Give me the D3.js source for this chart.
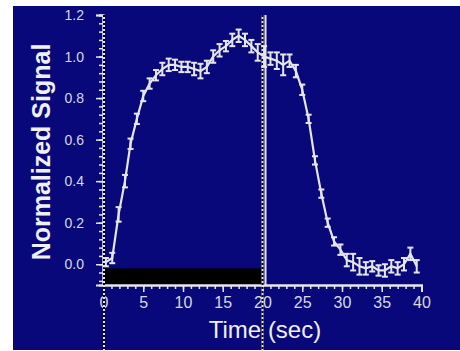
<!DOCTYPE html>
<html><head><meta charset="utf-8">
<script src="https://cdn.jsdelivr.net/npm/d3@7"></script>
<style>body{margin:0;background:#fff}svg{display:block}</style>
</head><body>
<svg id="c" width="460" height="351"></svg>
<script>
// Data
const times = [0.3,1.1,1.9,2.7,3.4,4.2,5.0,5.8,6.6,7.4,8.2,9.0,9.8,10.6,11.4,12.2,13.0,13.8,14.6,15.4,16.2,17.0,17.8,18.6,19.4,20.2,21.0,21.8,22.6,23.4,24.2,25.0,25.8,26.6,27.4,28.2,29.0,29.8,30.6,31.4,32.2,33.0,33.8,34.6,35.4,36.2,37.0,37.8,38.6,39.4];
const signal = [0.01,0.03,0.24,0.40,0.58,0.70,0.81,0.87,0.91,0.94,0.96,0.96,0.95,0.95,0.94,0.93,0.95,1.00,1.03,1.05,1.08,1.10,1.08,1.05,1.02,1.00,0.99,0.98,0.96,0.98,0.93,0.84,0.70,0.50,0.34,0.20,0.11,0.07,0.02,0.01,-0.01,-0.02,-0.01,-0.03,-0.03,-0.01,-0.02,0.00,0.05,-0.01];
const errors = [0.02,0.025,0.035,0.03,0.025,0.025,0.025,0.025,0.025,0.03,0.03,0.025,0.025,0.025,0.03,0.035,0.03,0.03,0.03,0.025,0.03,0.03,0.03,0.03,0.04,0.05,0.03,0.04,0.05,0.03,0.03,0.025,0.02,0.02,0.02,0.02,0.02,0.025,0.03,0.04,0.04,0.03,0.025,0.025,0.03,0.03,0.03,0.03,0.03,0.03];
const xTicks = [0,5,10,15,20,25,30,35,40];
const yTicks = [0.0,0.2,0.4,0.6,0.8,1.0,1.2];
const stimulus = [0,20];

const svg = d3.select("#c");
const W = "#e6e6ea";
svg.append("rect").attr("x",13).attr("y",6).attr("width",447).attr("height",344).attr("fill","#08087a");

const x = d3.scaleLinear().domain([0,40]).range([103.5,421.5]);
const y = d3.scaleLinear().domain([-0.1,1.2]).range([285,15]);

// stimulus bar
svg.append("rect").attr("x",x(stimulus[0])).attr("y",y(-0.02))
  .attr("width",x(stimulus[1])-x(stimulus[0])).attr("height",y(-0.1)-y(-0.02)).attr("fill","#000");

// minor ticks
const xMinor = d3.range(0,41,1);
const yMinor = d3.range(-0.08,1.2001,0.04);
function styleAxis(g){
  g.selectAll("path").attr("stroke",W).attr("stroke-width",2);
  g.selectAll("line").attr("stroke",W).attr("stroke-width",1.5);
  g.selectAll("text").attr("fill","#d8d8e0").style("font-family","Liberation Sans, Arial, sans-serif");
}
svg.append("g").attr("transform","translate(0,285)")
  .call(d3.axisBottom(x).tickValues(xMinor).tickSize(4).tickFormat("")).call(styleAxis);
svg.append("g").attr("transform","translate(0,285)")
  .call(d3.axisBottom(x).tickValues(xTicks).tickSize(7).tickPadding(5).tickFormat(d3.format("d")))
  .call(styleAxis).call(g=>g.selectAll("text").style("font-size","16px"));
svg.append("g").attr("transform","translate(103,0)")
  .call(d3.axisLeft(y).tickValues(yMinor).tickSize(4).tickFormat("")).call(styleAxis);
svg.append("g").attr("transform","translate(103,0)")
  .call(d3.axisLeft(y).tickValues(yTicks).tickSize(7).tickPadding(12).tickFormat(d3.format(".1f")))
  .call(styleAxis).call(g=>g.selectAll("text").style("font-size","14px"));

// vertical markers
svg.append("line").attr("x1",104).attr("x2",104).attr("y1",15).attr("y2",351).attr("stroke",W).attr("stroke-width",2);
svg.append("line").attr("x1",104).attr("x2",104).attr("y1",15).attr("y2",351).attr("stroke","#000").attr("stroke-width",2).attr("stroke-dasharray","2,2");
svg.append("line").attr("x1",x(stimulus[1])+3).attr("x2",x(stimulus[1])+3).attr("y1",15).attr("y2",285).attr("stroke",W).attr("stroke-width",2);
svg.append("line").attr("x1",x(stimulus[1])).attr("x2",x(stimulus[1])).attr("y1",15).attr("y2",351).attr("stroke",W).attr("stroke-width",2);
svg.append("line").attr("x1",x(stimulus[1])).attr("x2",x(stimulus[1])).attr("y1",15).attr("y2",351).attr("stroke","#000").attr("stroke-width",2).attr("stroke-dasharray","2,2");

// data
const pts = times.map((t,i)=>({t, v:signal[i], e:errors[i]}));
svg.append("path").datum(pts).attr("fill","none").attr("stroke",W).attr("stroke-width",2.2)
  .attr("d",d3.line().x(d=>x(d.t)).y(d=>y(d.v)));
const eb = svg.append("g").attr("stroke",W).attr("stroke-width",2);
pts.forEach(d=>{
  eb.append("line").attr("x1",x(d.t)).attr("x2",x(d.t)).attr("y1",y(d.v-d.e)).attr("y2",y(d.v+d.e));
  [d.v-d.e,d.v+d.e].forEach(v=>eb.append("line").attr("x1",x(d.t)-3).attr("x2",x(d.t)+3).attr("y1",y(v)).attr("y2",y(v)));
});

// titles
svg.append("text").attr("transform","translate(50,152) rotate(-90)").attr("text-anchor","middle")
  .style("font-family","Liberation Sans, Arial, sans-serif").style("font-weight","bold").style("font-size","25px")
  .attr("fill","#f0f0f4").text("Normalized Signal");
svg.append("text").attr("x",265).attr("y",338).attr("text-anchor","middle")
  .style("font-family","Liberation Sans, Arial, sans-serif").style("font-size","24px")
  .attr("fill","#f0f0f4").text("Time (sec)");
</script>
</body></html>
